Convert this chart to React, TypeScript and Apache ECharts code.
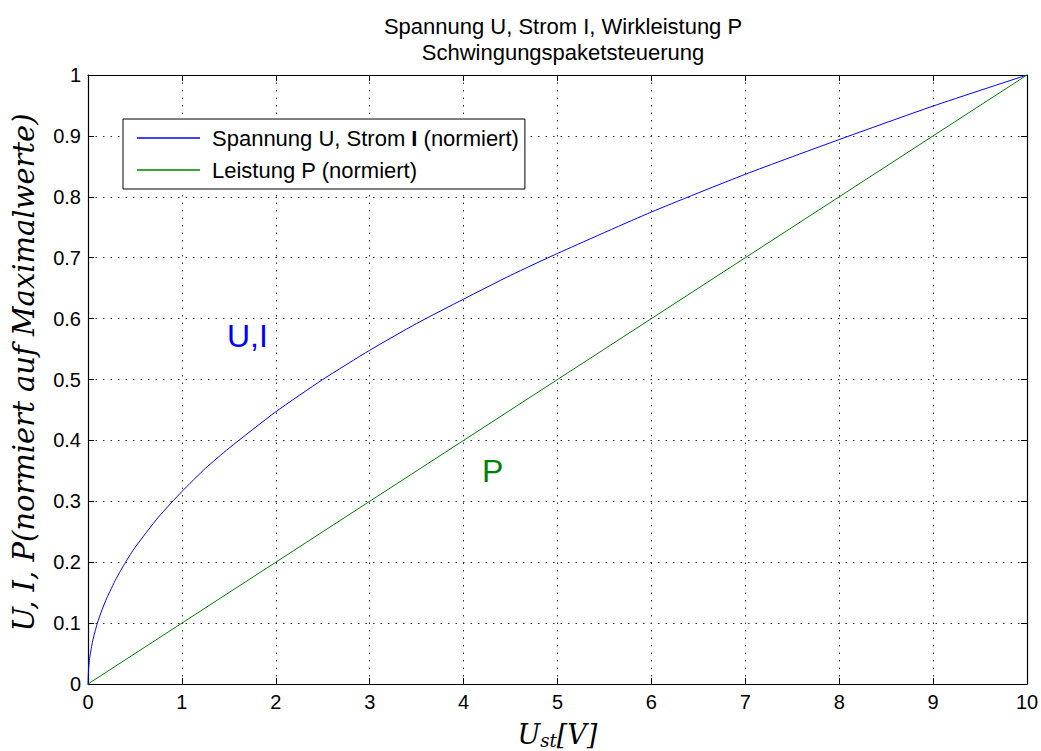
import React, { useEffect, useRef } from "react";
import * as echarts from "echarts";

const titleLines = ["Spannung U, Strom I, Wirkleistung P", "Schwingungspaketsteuerung"];
const seriesNames = ["Spannung U, Strom I (normiert)", "Leistung P (normiert)"];
const ustValues = [0, 0.005, 0.01, 0.02, 0.05, 0.1, 0.15, 0.2, 0.3, 0.4, 0.5, 0.75, 1, 1.25, 1.5, 2, 2.5, 3, 3.5, 4, 4.5, 5, 6, 7, 8, 9, 10];
const uiValues = [0, 0.022, 0.032, 0.045, 0.071, 0.1, 0.122, 0.141, 0.173, 0.2, 0.224, 0.274, 0.316, 0.354, 0.387, 0.447, 0.5, 0.548, 0.592, 0.632, 0.671, 0.707, 0.775, 0.837, 0.894, 0.949, 1];
const pX = [0, 1, 2, 3, 4, 5, 6, 7, 8, 9, 10];
const pValues = [0, 0.1, 0.2, 0.3, 0.4, 0.5, 0.6, 0.7, 0.8, 0.9, 1];
const xTicks = [0, 1, 2, 3, 4, 5, 6, 7, 8, 9, 10];
const yTicks = [0, 0.1, 0.2, 0.3, 0.4, 0.5, 0.6, 0.7, 0.8, 0.9, 1];

const SANS = "'Liberation Sans', Arial, sans-serif";
const SERIF = "'DejaVu Serif', 'Liberation Serif', serif";
const FS = 22;
const TFS = 20;

export default function App() {
  const ref = useRef<HTMLDivElement>(null);
  useEffect(() => {
    if (!ref.current) return;
    const chart = echarts.init(ref.current, undefined, { renderer: "svg" });
    const axisCommon = {
      type: "value" as const,
      interval: 1,
      min: xTicks[0],
      max: xTicks[xTicks.length - 1],
    };
    const tick = { show: true, inside: true, length: 6, lineStyle: { color: "#000", width: 1 } };
    const line = { show: true, lineStyle: { color: "#000", width: 1.2 } };
    const grid = { show: true, lineStyle: { color: "#333", type: [1.5, 6], width: 1 } };
    chart.setOption({
      animation: false,
      backgroundColor: "#fff",
      title: {
        text: titleLines.join("\n"),
        left: 558,
        top: 8,
        textAlign: "center",
        textStyle: { fontFamily: SANS, fontSize: FS, fontWeight: "normal", color: "#000", lineHeight: 26 },
      },
      grid: { left: 88, right: 14, top: 75, bottom: 67, containLabel: false, outerBoundsMode: "none" },
      legend: {
        orient: "vertical",
        left: 123,
        top: 119,
        padding: [7, 6, 7, 14],
        itemGap: 8,
        itemWidth: 63,
        itemHeight: 1.5,
        icon: "rect",
        backgroundColor: "#fff",
        borderColor: "#000",
        borderWidth: 1,
        borderRadius: 0,
        data: seriesNames,
        formatter: (name: string) =>
          name === seriesNames[0]
            ? "{a|Spannung U, Strom }{b|I}{a| (normiert)}"
            : "{a|" + name + "}",
        textStyle: {
          fontFamily: SANS,
          fontSize: FS,
          color: "#000",
          lineHeight: 24,
          padding: [0, 0, 0, 7],
          rich: {
            a: { fontFamily: SANS, fontSize: FS, color: "#000", lineHeight: 24 },
            b: { fontFamily: SANS, fontSize: FS, color: "#000", fontWeight: "bold", lineHeight: 24 },
          },
        },
      },
      xAxis: [
        {
          ...axisCommon,
          position: "bottom",
          axisLine: { ...line, onZero: false },
          axisTick: tick,
          axisLabel: { fontFamily: SANS, fontSize: TFS, color: "#000", margin: 8 },
          splitLine: grid,
          name: "{u|U}{s|st}{u|[V]}",
          nameLocation: "middle",
          nameGap: 35,
          nameTextStyle: {
            rich: {
              u: { fontFamily: SERIF, fontStyle: "italic", fontSize: 27, color: "#000", lineHeight: 30 },
              s: { fontFamily: SERIF, fontStyle: "italic", fontSize: 18, color: "#000", verticalAlign: "bottom", lineHeight: 30, padding: [10, 0, 0, 0] },
            },
          },
        },
        {
          ...axisCommon,
          position: "top",
          axisLine: { ...line, onZero: false },
          axisTick: tick,
          axisLabel: { show: false },
          splitLine: { show: false },
        },
      ],
      yAxis: [
        {
          type: "value",
          min: 0,
          max: 1,
          interval: 0.1,
          position: "left",
          axisLine: { ...line, onZero: false },
          axisTick: tick,
          axisLabel: {
            fontFamily: SANS,
            fontSize: TFS,
            color: "#000",
            margin: 7,
            formatter: (v: number) => {
              const m = yTicks.find((t) => Math.abs(t - v) < 1e-9);
              return m === undefined ? "" : String(Number(m.toFixed(1)));
            },
          },
          splitLine: grid,
          name: "U, I, P(normiert auf Maximalwerte)",
          nameLocation: "middle",
          nameGap: 50,
          nameRotate: 90,
          nameTextStyle: { fontFamily: SERIF, fontStyle: "italic", fontSize: 29, color: "#000", padding: [0, 0, 0, 14] },
        },
        {
          type: "value",
          min: 0,
          max: 1,
          interval: 0.1,
          position: "right",
          axisLine: { ...line, onZero: false },
          axisTick: tick,
          axisLabel: { show: false },
          splitLine: { show: false },
        },
      ],
      series: [
        {
          name: seriesNames[0],
          type: "line",
          data: ustValues.map((x, i) => [x, uiValues[i]]),
          smooth: 0.2,
          symbol: "none",
          lineStyle: { color: "#0000ff", width: 1 },
          itemStyle: { color: "#0000ff" },
        },
        {
          name: seriesNames[1],
          type: "line",
          data: pX.map((x, i) => [x, pValues[i]]),
          symbol: "none",
          lineStyle: { color: "#008000", width: 1 },
          itemStyle: { color: "#008000" },
        },
      ],
      graphic: [
        {
          type: "text",
          left: 227,
          top: 320,
          style: { text: "U,I", fontFamily: SANS, fontSize: 32, fill: "#0000ff" },
        },
        {
          type: "text",
          left: 482,
          top: 455,
          style: { text: "P", fontFamily: SANS, fontSize: 32, fill: "#008000" },
        },
      ],
    });
    return () => chart.dispose();
  }, []);
  return <div ref={ref} style={{ width: 1041, height: 751, position: "absolute", left: 0, top: 0 }} />;
}
